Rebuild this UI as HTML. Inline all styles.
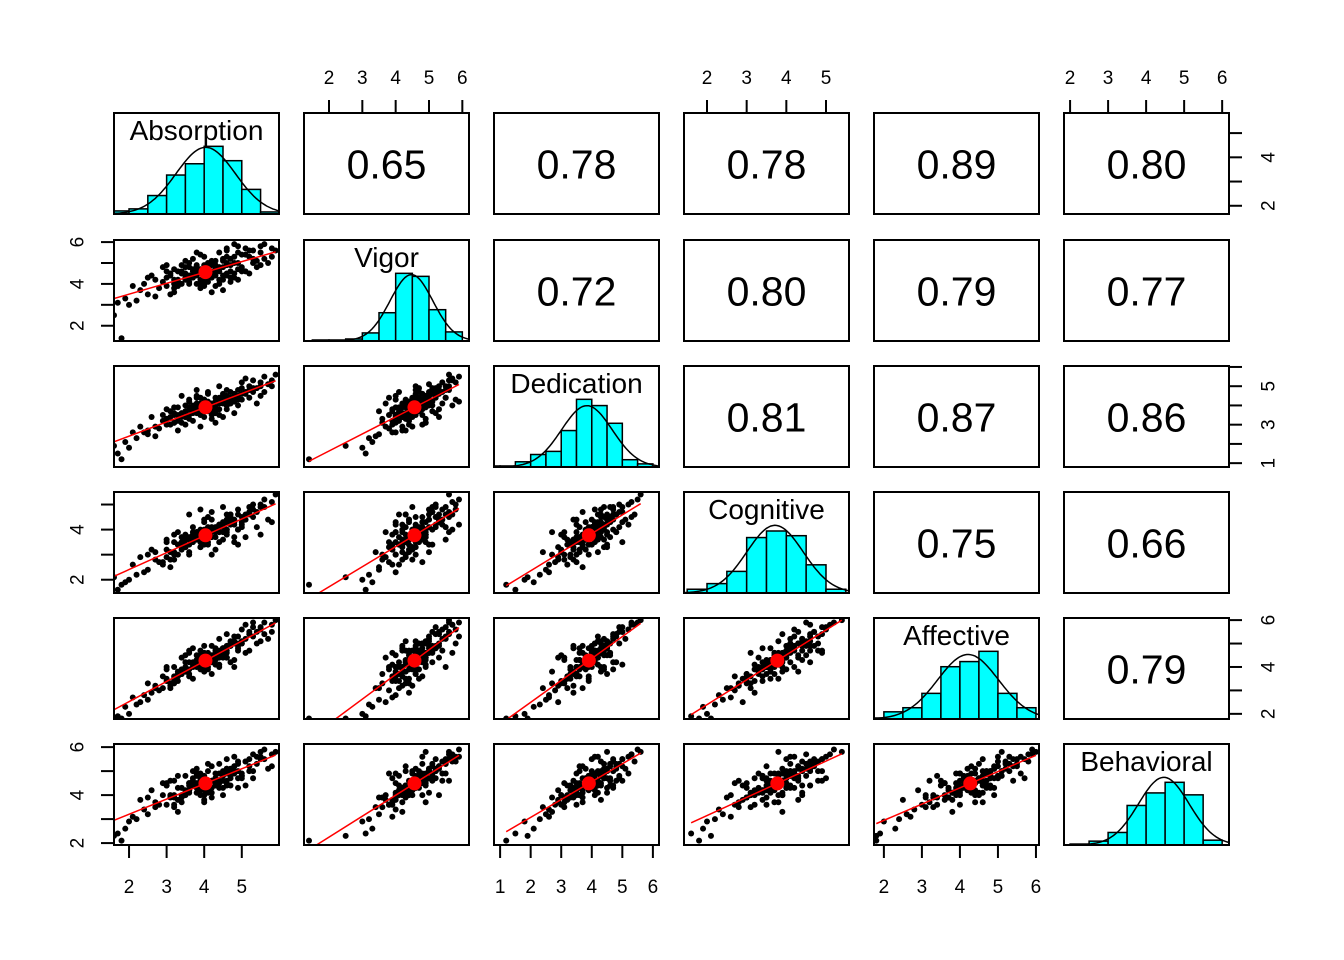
<!DOCTYPE html>
<html><head><meta charset="utf-8"><style>
body{margin:0;background:#fff}
svg{display:block;font-family:"Liberation Sans",Arial,sans-serif}
</style></head><body>
<svg id="chart" width="1344" height="960" viewBox="0 0 1344 960" xmlns="http://www.w3.org/2000/svg"></svg>
<script>
const varNames = ["Absorption","Vigor","Dedication","Cognitive","Affective","Behavioral"];
const corrLabels = [
  [null,"0.65","0.78","0.78","0.89","0.80"],
  [null,null,"0.72","0.80","0.79","0.77"],
  [null,null,null,"0.81","0.87","0.86"],
  [null,null,null,null,"0.75","0.66"],
  [null,null,null,null,null,"0.79"]
];
const histStarts = [1.5,1.5,0.5,1.5,1.5,2.0];
const histCounts = [
  [3,5,18,38,49,66,52,24,2],
  [1,1,2,8,28,67,64,31,9],
  [1,1,5,12,15,35,65,59,42,7,3],
  [4,10,23,59,66,61,30,4],
  [1,7,11,25,51,56,66,25,11],
  [1,4,13,41,54,65,52,5]
];
// observations: Absorption, Vigor, Dedication, Cognitive, Affective, Behavioral
const observations = [
[4.0,4.5,3.9,3.8,4.3,4.5],[4.2,4.6,4.0,3.9,4.4,4.6],[3.8,4.4,3.7,3.6,4.1,4.3],[4.5,4.8,4.3,4.1,4.8,4.8],
[3.5,4.2,3.4,3.3,3.8,4.1],[4.8,5.0,4.5,4.4,5.1,5.0],[3.2,4.0,3.1,3.0,3.4,3.9],[5.2,5.3,4.8,4.6,5.4,5.2],
[2.8,3.8,2.8,2.7,3.0,3.6],[5.5,5.5,5.0,4.9,5.7,5.5],[4.1,4.3,4.1,3.5,4.2,4.2],[3.9,4.7,3.8,4.0,4.5,4.7],
[4.3,4.4,3.6,3.7,4.6,4.4],[3.7,4.6,4.0,3.9,4.0,4.6],[4.6,4.9,4.2,3.8,4.4,4.9],[3.4,4.5,3.6,3.2,3.9,4.0],
[4.4,4.2,4.1,4.2,4.7,4.3],[3.6,4.1,3.5,3.7,3.7,4.2],[5.0,4.8,4.6,4.3,5.0,4.7],[3.0,4.3,3.3,2.9,3.5,4.4],
[4.7,5.2,4.4,4.5,4.9,5.1],[3.3,3.9,3.2,3.4,3.6,3.8],[5.4,5.1,4.9,4.7,5.5,5.3],[2.5,3.5,2.5,2.4,2.6,3.2],
[5.8,5.7,5.3,5.1,5.8,5.7],[4.0,4.9,4.3,4.0,4.6,4.8],[4.1,4.1,3.7,3.4,4.0,4.1],[3.8,4.8,4.1,3.9,4.3,4.9],
[4.3,4.6,3.9,4.1,4.8,4.4],[3.9,4.2,3.6,3.5,4.0,4.3],[4.9,4.7,4.3,4.0,4.7,5.0],[3.1,4.4,3.0,3.1,3.3,4.0],
[4.5,4.4,4.2,4.3,4.5,4.6],[3.6,4.8,3.8,3.6,4.2,4.5],[5.1,5.4,4.7,4.4,5.2,5.4],[2.2,3.2,2.3,2.2,2.4,3.0],
[4.2,4.9,4.1,3.7,4.5,4.6],[3.7,4.3,3.9,3.8,4.1,4.4],[4.6,4.5,4.0,4.0,4.4,4.5],[3.4,4.0,3.4,3.5,3.7,3.9],
[5.3,5.0,4.7,4.8,5.3,5.0],[2.0,3.0,1.8,2.0,2.0,2.9],[5.6,5.9,5.5,5.2,5.9,5.9],[4.0,4.4,4.2,3.6,4.1,4.4],
[4.4,4.7,3.8,3.9,4.4,4.6],[3.5,4.5,3.7,3.3,4.0,4.2],[4.7,4.6,4.4,4.2,4.9,4.7],[3.9,4.0,3.5,3.9,4.0,4.0],
[4.1,5.0,4.0,4.1,4.6,5.0],[3.3,4.6,3.5,3.0,3.7,4.3],[4.8,5.3,4.6,4.3,5.0,5.2],[2.7,4.2,2.9,2.8,3.2,3.7],
[5.0,4.6,4.3,4.5,5.1,4.8],[3.2,3.6,3.1,2.8,3.3,3.5],[1.8,1.4,1.2,1.8,1.8,2.1],[4.3,5.1,4.2,4.0,4.7,4.9],
[3.8,4.5,3.6,3.7,4.3,4.5],[4.6,5.0,4.5,4.6,4.9,5.1],[2.4,4.0,2.6,2.3,2.8,3.4],[5.9,5.6,5.6,5.4,6.0,5.8],
[4.0,4.6,3.8,3.6,4.3,4.6],[3.6,4.4,3.3,3.4,3.9,4.2],[4.5,5.2,4.5,4.2,4.8,5.0],[4.2,4.3,4.0,4.1,4.2,4.3],
[3.0,3.9,3.0,3.2,3.4,3.6],[5.2,5.6,5.0,4.7,5.5,5.5],[3.7,4.7,3.7,3.5,4.2,4.7],[4.4,4.8,4.3,3.9,4.6,4.5],
[2.9,4.1,3.2,2.6,3.1,4.0],[4.9,5.5,4.8,4.6,5.3,5.3],[4.1,4.5,4.2,3.8,4.4,4.5],[3.5,4.3,3.4,3.6,3.8,4.1],
[4.7,4.9,4.1,4.3,5.0,4.8],[4.0,4.2,3.9,3.4,4.0,4.2],[1.7,3.1,1.5,1.6,1.9,2.4],[5.5,5.8,5.2,5.0,5.6,5.6],
[4.3,4.7,4.4,4.0,4.5,4.7],[3.8,4.9,3.9,3.8,4.1,4.8],[3.2,4.2,3.6,3.1,3.6,4.0],[4.6,4.4,4.0,4.4,4.7,4.4],
[4.4,4.0,3.5,4.2,4.0,4.9],[3.6,5.0,4.2,3.1,4.6,4.1],[4.8,4.3,3.6,3.5,4.3,5.2],[3.2,4.7,3.9,3.8,3.5,4.6],
[5.1,4.6,4.6,3.7,4.6,4.4],[4.0,5.3,3.4,4.4,4.9,4.0],[3.9,3.8,4.4,3.3,3.9,4.9],[5.4,4.8,4.1,4.1,5.0,5.6],
[2.6,4.4,3.4,3.2,2.9,4.2],[4.6,5.6,4.8,3.9,5.4,4.6],[3.4,4.9,3.1,3.7,4.4,3.7],[5.7,5.0,5.1,4.4,5.2,5.1],
[4.2,3.6,3.3,3.0,3.7,3.9],[3.0,4.6,3.8,3.6,3.9,4.5],[4.9,5.8,4.3,4.8,5.0,5.4],[3.8,4.0,4.5,3.9,4.5,4.1],
[4.5,4.2,3.4,3.6,4.8,4.3],[2.3,3.7,2.9,2.9,2.5,3.8],[5.2,4.5,4.4,4.9,4.7,5.0],[3.5,5.1,4.0,3.4,4.2,4.8],
[4.1,4.8,4.6,4.5,4.5,5.3],[3.3,4.2,2.7,3.9,3.8,3.3],[5.0,5.4,5.2,4.2,5.6,4.9],[4.3,3.9,3.8,3.2,4.1,4.7],
[2.9,4.8,3.5,2.7,3.6,4.5],[4.7,4.1,4.7,4.6,4.2,4.4],[3.7,5.2,3.6,4.1,4.8,5.0],[5.5,4.9,4.5,3.8,5.1,5.8],
[4.0,4.0,4.3,4.3,3.8,3.8],[3.1,3.5,3.7,2.5,3.1,3.9],[4.6,5.7,4.0,4.0,4.6,5.5],[3.9,4.5,2.9,3.3,4.4,4.2],
[5.3,5.2,4.9,5.0,5.7,4.7],[2.1,3.9,2.6,2.6,2.7,3.1],[4.4,4.6,5.0,3.5,4.1,4.6],[3.6,4.3,4.3,4.6,4.7,4.4],
[4.8,5.9,4.2,4.2,5.3,5.6],[1.9,3.3,2.1,1.9,2.3,2.6],[4.2,5.1,3.7,4.7,4.9,5.2],[3.3,4.1,3.9,3.4,3.4,4.8],
[5.8,5.3,5.0,4.3,5.5,5.2],[4.5,3.7,4.1,3.9,4.4,4.0],[3.7,4.4,3.2,3.6,3.5,4.4],[4.9,5.0,4.5,3.4,4.8,4.7],
[2.7,3.4,2.4,3.1,3.1,3.5],[5.1,5.7,5.4,4.6,5.8,5.4],[4.1,4.7,4.7,4.0,3.9,4.3],[3.5,4.8,3.0,3.8,4.5,4.0],
[4.7,4.3,4.2,4.6,5.1,5.0],[3.8,5.5,4.4,3.6,4.0,4.9],[4.3,4.9,3.1,3.9,4.3,4.5],[3.1,4.5,3.4,2.8,3.2,4.6],
[5.6,5.2,4.7,4.9,5.4,5.5],[4.0,3.9,3.7,3.8,4.6,3.7],[3.4,4.6,4.5,3.3,3.7,4.3],[4.6,5.3,3.8,4.3,4.4,5.1],
[2.5,4.3,2.7,3.0,3.3,3.9],[5.0,4.7,4.9,4.1,5.0,4.8],[3.9,5.4,4.1,4.8,4.7,4.6],[4.8,4.5,4.3,3.7,4.0,4.9],
[3.2,3.8,3.5,3.5,4.0,3.6],[4.4,5.5,4.4,4.1,5.2,5.3],[1.6,2.5,1.9,2.1,1.8,2.3],[4.2,4.4,3.5,4.4,4.3,4.1],
[5.3,5.6,5.3,4.5,5.9,5.7],[3.6,4.0,3.9,3.0,3.6,4.5],[4.5,5.1,4.6,4.9,4.6,4.6],[3.0,4.9,3.3,3.5,4.0,4.4],
[4.9,4.2,4.0,4.0,4.9,4.3],[3.8,4.6,4.8,3.9,4.2,5.1]
];
const xDomains = [[1.6,5.99],[1.25,6.2],[0.8,6.2],[1.42,5.58],[1.74,6.08],[1.84,6.18]];
const yDomains = [[1.66,5.83],[1.27,6.1],[0.8,6.05],[1.47,5.5],[1.78,6.09],[1.92,6.13]];
const xTickVals = [[2,3,4,5],[2,3,4,5,6],[1,2,3,4,5,6],[2,3,4,5],[2,3,4,5,6],[2,3,4,5,6]];
const yTickVals = [[2,3,4,5],[2,3,4,5,6],[1,2,3,4,5,6],[2,3,4,5],[2,3,4,5,6],[2,3,4,5,6]];
const yTickLabels = [[2,4],[2,4,6],[1,3,5],[2,4],[2,4,6],[2,4,6]];

const NS="http://www.w3.org/2000/svg";
const svg=document.getElementById('chart');
const colX=[114,304,494,684,874,1064], rowY=[113,240,366,492,618,744], PW=165, PH=101;
function mk(tag,attrs,parent){const e=document.createElementNS(NS,tag);for(const k in attrs)e.setAttribute(k,attrs[k]);(parent||svg).appendChild(e);return e;}
function sx(j,v){const d=xDomains[j];return colX[j]+(v-d[0])/(d[1]-d[0])*PW;}
function sy(i,v){const d=yDomains[i];return rowY[i]+PH-(v-d[0])/(d[1]-d[0])*PH;}
const n=observations.length;
const means=varNames.map((_,k)=>observations.reduce((s,r)=>s+r[k],0)/n);

for(let i=0;i<6;i++){for(let j=0;j<6;j++){
  const g=mk('g',{});
  const x0=colX[j],y0=rowY[i];
  if(i===j){
    
    
    const cp=mk('clipPath',{id:'cp'+i},g);mk('rect',{x:x0,y:y0,width:PW,height:PH},cp);
    const hg=mk('g',{'clip-path':'url(#cp'+i+')'},g);
    const counts=histCounts[i];
    let tot=0,sm=0,sq=0;
    counts.forEach((c,b)=>{const mid=histStarts[i]+b*0.5+0.25;tot+=c;sm+=c*mid;sq+=c*mid*mid;});
    const mu=sm/tot,sd=Math.sqrt(sq/tot-mu*mu);
    const peak=tot*0.5/(sd*Math.sqrt(2*Math.PI));
    const mx=Math.max(Math.max(...counts),peak),hs=0.67*PH/mx;
    counts.forEach((c,b)=>{const lo=histStarts[i]+b*0.5;
      const r=mk('rect',{x:sx(i,lo),y:y0+PH-c*hs,width:sx(i,lo+0.5)-sx(i,lo),height:c*hs,fill:'#00ffff',stroke:'#000','stroke-width':1.5},hg);
      
      });
    let pts=[];
    for(let k=0;k<=80;k++){const v=xDomains[i][0]+k/80*(xDomains[i][1]-xDomains[i][0]);
      const dens=peak*Math.exp(-0.5*((v-mu)/sd)**2);
      pts.push(sx(i,v).toFixed(1)+','+(y0+PH-dens*hs).toFixed(1));}
    const pl=mk('polyline',{points:pts.join(' '),fill:'none',stroke:'#000','stroke-width':1.5},hg);
    
    
    const t=mk('text',{x:x0+PW/2,y:y0+27,'text-anchor':'middle','font-size':28,fill:'#000'},g);t.textContent=varNames[i];
    
    
  } else if(j>i){
    
    
    const t=mk('text',{x:x0+PW/2,y:y0+PH/2+15,'text-anchor':'middle','font-size':41,fill:'#000'},g);t.textContent=corrLabels[i][j];
    
    
  } else {
    
    
    const cp=mk('clipPath',{id:'cs'+i+'_'+j},g);mk('rect',{x:x0,y:y0,width:PW,height:PH},cp);
    const sg=mk('g',{'clip-path':'url(#cs'+i+'_'+j+')'},g);
    observations.forEach(r=>{const c=mk('circle',{cx:sx(j,r[j]),cy:sy(i,r[i]),r:3,fill:'#000'},sg);
      
      });
    let sxy=0,sxx=0;observations.forEach(r=>{sxy+=(r[j]-means[j])*(r[i]-means[i]);sxx+=(r[j]-means[j])**2;});
    const b=sxy/sxx,a=means[i]-b*means[j];
    const xs=observations.map(r=>r[j]),lo=Math.min(...xs),hi=Math.max(...xs);
    const ln=mk('line',{x1:sx(j,lo),y1:sy(i,a+b*lo),x2:sx(j,hi),y2:sy(i,a+b*hi),stroke:'#ff0000','stroke-width':1.5},sg);
    
    
    const md=mk('circle',{cx:sx(j,means[j]),cy:sy(i,means[i]),r:7,fill:'#ff0000'},sg);
    
    
  }
  mk('rect',{x:x0,y:y0,width:PW,height:PH,fill:'none',stroke:'#000','stroke-width':2},g);
}}
// x axes: top for odd cols, bottom for even cols
for(let j=0;j<6;j++){
  const top=j%2===1;const g=mk('g',{});
  
  
  const ty=top?rowY[0]:rowY[5]+PH, dir=top?-1:1;
  xTickVals[j].forEach(v=>{const x=sx(j,v);mk('line',{x1:x,x2:x,y1:ty+dir*13,y2:ty,stroke:'#000','stroke-width':2},g);
    const t=mk('text',{x:x,y:top?ty-29:ty+48,'text-anchor':'middle','font-size':19},g);t.textContent=v;
    
    });
}
// y axes: left for odd rows, right for even rows
for(let i=0;i<6;i++){
  const left=i%2===1;const g=mk('g',{});
  
  
  const tx=left?colX[0]:colX[5]+PW, dir=left?-1:1;
  yTickVals[i].forEach(v=>{const y=sy(i,v);mk('line',{x1:tx+dir*13,x2:tx,y1:y,y2:y,stroke:'#000','stroke-width':2},g);});
  yTickLabels[i].forEach(v=>{const y=sy(i,v);const lx=left?tx-36:tx+40;
    const t=mk('text',{x:lx,y:y,'text-anchor':'middle','font-size':19,transform:'rotate(-90 '+lx+' '+y+')'},g);
    t.setAttribute('dominant-baseline','central');t.textContent=v;
    
    });
}
</script>
</body></html>
